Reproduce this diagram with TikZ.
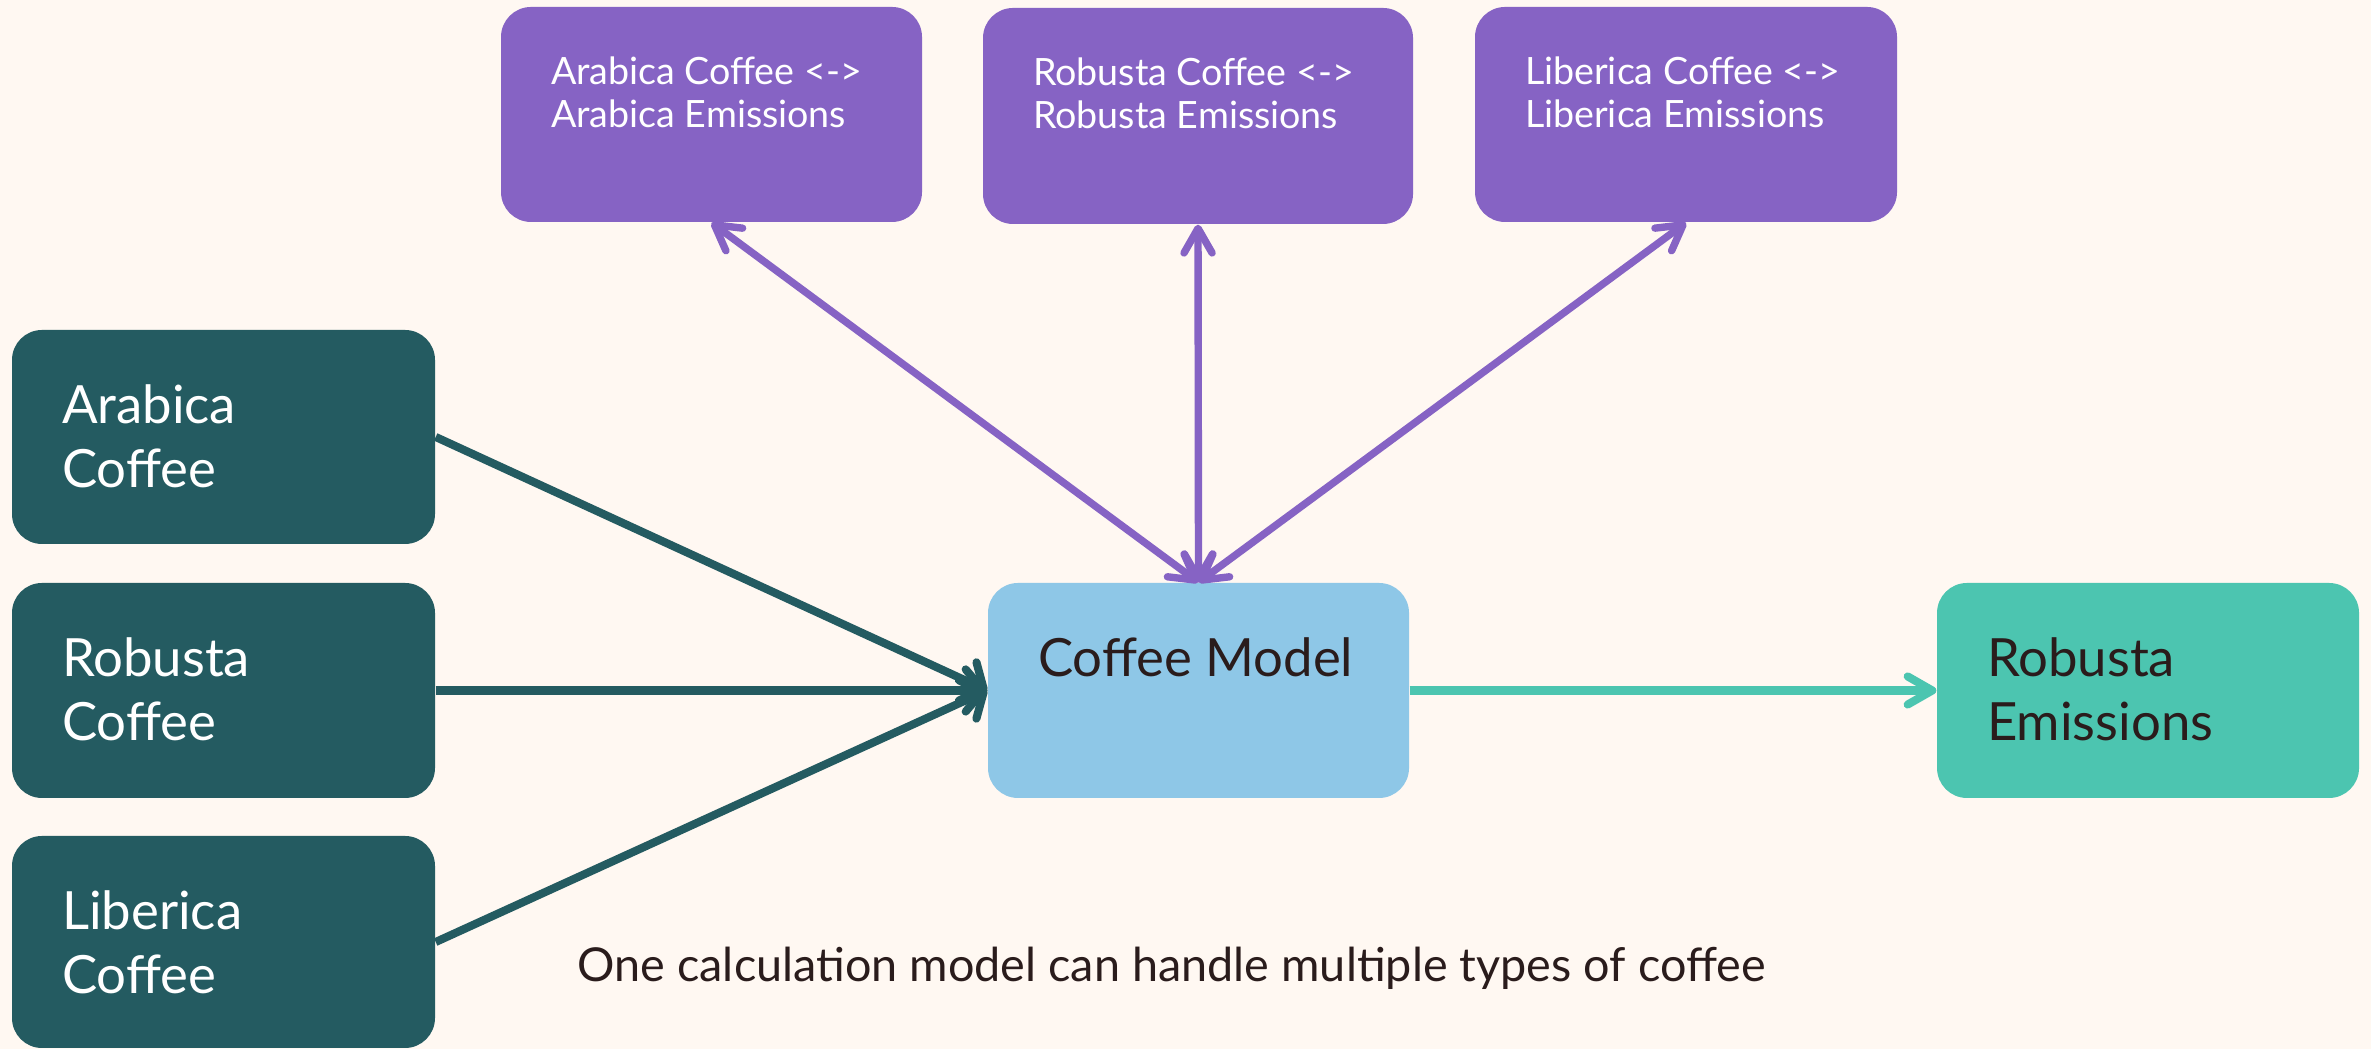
\documentclass[tikz,border=0pt]{standalone}
\usepackage{fontspec}
\setmainfont{Lato}
\usepackage{xcolor}
\usepackage{tikz}
\usetikzlibrary{arrows.meta}
\definecolor{cream}{HTML}{FFF8F2}
\definecolor{deepteal}{HTML}{245B61}
\definecolor{lilac}{HTML}{8663C4}
\definecolor{paleblue}{HTML}{8EC7E7}
\definecolor{mint}{HTML}{4CC5B0}
\definecolor{ink}{HTML}{2A1C1C}
\newcommand{\boxtext}[3]{\parbox[c][#2][t]{#1}{\raggedright #3}}

\begin{document}
\begin{tikzpicture}
    \tikzstyle{block}=[rounded corners=0.3cm,inner xsep=0.5cm,inner ysep=0.55cm]
    \tikzstyle{bean}=[block,fill=deepteal,text=white,font=\fontsize{15}{18.2}\selectfont]
    \tikzstyle{pair}=[block,fill=lilac,text=white,inner ysep=0.5cm,font=\fontsize{10.7}{12.2}\selectfont]
    \tikzstyle{model}=[block,fill=paleblue,text=ink,font=\fontsize{15}{18.2}\selectfont]
    \tikzstyle{result}=[block,fill=mint,text=ink,font=\fontsize{15}{18.2}\selectfont]

    \fill[cream] (0,0) rectangle (23.71,10.49);

    \node[bean](arabicacoffee) at (2.235,6.12) {\boxtext{3.23cm}{1.04cm}{Arabica\\Coffee}};
    \node[bean](robustacoffee) at (2.235,3.585) {\boxtext{3.23cm}{1.05cm}{Robusta\\Coffee}};
    \node[bean](libericacoffee) at (2.235,1.07) {\boxtext{3.23cm}{1.02cm}{Liberica\\Coffee}};

    \node[pair](arabicapair) at (7.115,9.345) {\boxtext{3.21cm}{1.15cm}{Arabica Coffee <->\\Arabica Emissions}};
    \node[pair](robustapair) at (11.98,9.33) {\boxtext{3.30cm}{1.16cm}{Robusta Coffee <->\\Robusta Emissions}};
    \node[pair](libericapair) at (16.86,9.345) {\boxtext{3.22cm}{1.15cm}{Liberica Coffee <->\\Liberica Emissions}};

    \node[model](coffeemodel) at (11.985,3.585) {\boxtext{3.21cm}{1.05cm}{Coffee Model}};
    \node[result](robustaemissions) at (21.48,3.585) {\boxtext{3.22cm}{1.05cm}{Robusta\\Emissions}};

    \node[anchor=base west,inner sep=0pt,text=ink,font=\fontsize{13.3}{16}\selectfont](onemodel) at (5.77,0.67) {One calculation model can handle multiple types of coffee};

    \tikzstyle{feed} = [line width=2.3pt,draw=deepteal,-{Straight Barb[round,length=5pt,width=12pt]}]
    \tikzstyle{lookup} = [line width=2.1pt,draw=lilac,{Straight Barb[round,length=7pt,width=8pt]}-{Straight Barb[round,length=7pt,width=8pt]}]
    \tikzstyle{emit} = [line width=2.3pt,draw=mint,-{Straight Barb[round,length=7pt,width=8pt]}]

    \draw [feed] (arabicacoffee.east) -- (coffeemodel.west);
    \draw [feed] (robustacoffee.east) -- (coffeemodel.west);
    \draw [feed] (libericacoffee.east) -- (coffeemodel.west);

    \draw [lookup] (coffeemodel.north) -- (arabicapair.south);
    \draw [lookup] (coffeemodel.north) -- (robustapair.south);
    \draw [lookup] (coffeemodel.north) -- (libericapair.south);

    \draw [emit] (coffeemodel.east) -- (robustaemissions.west);

\end{tikzpicture}
\end{document}
